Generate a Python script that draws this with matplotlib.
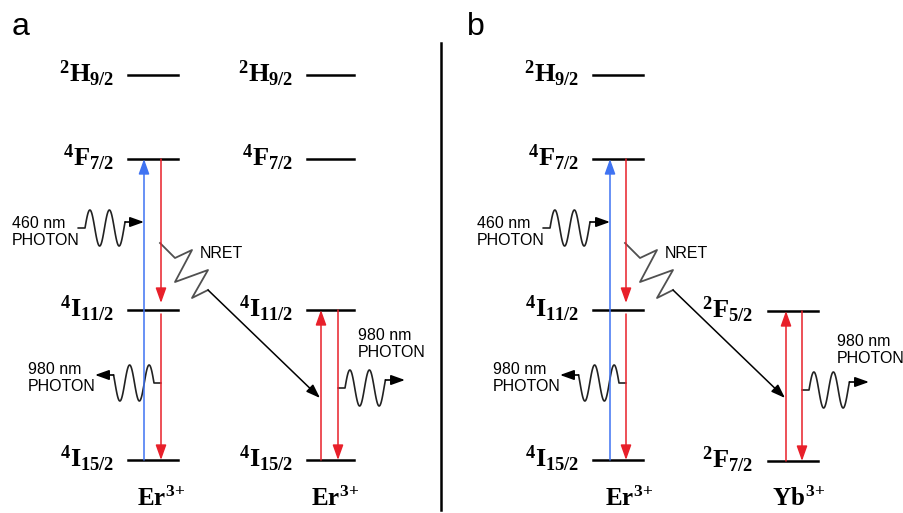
import numpy as np
import matplotlib
matplotlib.use('Agg')
import matplotlib.pyplot as plt

# ---- level schemes (diagram height, measured from the top) ----
er_terms = [r'^{2}H_{9/2}', r'^{4}F_{7/2}', r'^{4}I_{11/2}', r'^{4}I_{15/2}']
er_levels = [75, 159, 310, 460]
yb_terms = [r'^{2}F_{5/2}', r'^{2}F_{7/2}']
yb_levels = [311, 461]
ions = {'a': ['Er^{3{+}}', 'Er^{3{+}}'], 'b': ['Er^{3{+}}', 'Yb^{3{+}}']}
pump_label = '460 nm\nPHOTON'
emit_label = '980 nm\nPHOTON'
transfer_label = 'NRET'

BLUE = '#3f73f2'
RED = '#e8202a'
GREY = '#505050'

plt.rcParams['mathtext.fontset'] = 'custom'
plt.rcParams['mathtext.rm'] = 'Liberation Serif:bold'
plt.rcParams['mathtext.it'] = 'Liberation Serif:bold'
plt.rcParams['mathtext.bf'] = 'Liberation Serif:bold'

fig = plt.figure(figsize=(9.04, 5.13), dpi=100)
ax = fig.add_axes([0, 0, 1, 1])
ax.set_xlim(0, 904)
ax.set_ylim(513, 0)
ax.axis('off')


def arrow(x0, y0, x1, y1, color, ms=13, lw=1.1):
    ax.annotate('', xy=(x1, y1), xytext=(x0, y0),
                arrowprops=dict(arrowstyle='-|>,head_length=0.7,head_width=0.25',
                                color=color, lw=lw, shrinkA=0, shrinkB=0,
                                mutation_scale=ms))


def photon(x0, y0, xt, yt, d):
    # wavy photon: short lead, two wiggles, then arrow to (xt, yt)
    lead = 7
    per = 19.5
    amp = 18
    t = np.linspace(0, 4 * np.pi + np.arcsin((y0 - yt) / amp), 120)
    wx = x0 + d * lead + d * t / (2 * np.pi) * per
    wy = y0 - amp * np.sin(t)
    xs = np.concatenate([[x0], wx])
    ys = np.concatenate([[y0], wy])
    ax.plot(xs, ys, color='#222222', lw=1.2, solid_capstyle='round')
    arrow(xs[-1], yt, xt, yt, 'black', ms=12, lw=1.2)


def level(x0, x1, y, term, lx):
    ax.plot([x0, x1], [y, y], color='black', lw=1.8, zorder=3)
    ax.text(lx, y + 7, '$' + term + '$', ha='right', va='baseline', fontsize=19)


def panel(tag, ox, acc, acc_terms, acc_levels, acc_lx, up_x, down_x,
          t460, t980l, t980r, ph_r):
    # donor Er3+
    dx0, dx1 = 128 + ox, 178 + ox
    for term, y in zip(er_terms, er_levels):
        level(dx0, dx1, y, term, 114 + ox)
    # acceptor ion
    for term, y in zip(acc_terms, acc_levels):
        level(acc[0], acc[1], y, term, acc_lx)
    bx, rx = 144 + ox + (1 if tag == 'b' else 0), 161 + ox
    # absorption and emission in donor
    arrow(bx, er_levels[3], bx, er_levels[1], BLUE)
    arrow(rx, er_levels[1], rx, er_levels[2] - 7, RED)
    arrow(rx, er_levels[2] + 4, rx, er_levels[3], RED)
    # acceptor transitions
    arrow(up_x, acc_levels[-1], up_x, acc_levels[-2], RED)
    arrow(down_x, acc_levels[-2], down_x, acc_levels[-1], RED)
    # photons
    photon(78 + ox, 228, bx, 222, 1)
    photon(rx, 383, 95 + ox, 375, -1)
    photon(down_x, ph_r, down_x + 67, ph_r - 8, 1)
    for (tx, ty), lab in zip([t460, t980l, t980r], [pump_label, emit_label, emit_label]):
        ax.text(tx, ty, lab, ha='left', va='center',
                fontsize=11.5, family='Liberation Sans')
    # non-radiative energy transfer
    zx = np.array([160, 175, 192, 175, 208, 192, 208]) + ox
    zy = np.array([243, 258, 250, 282, 270, 298, 290])
    ax.plot(zx, zy, color=GREY, lw=1.3)
    arrow(zx[-1], zy[-1], up_x - 1, 398, 'black', ms=12, lw=1.1)
    ax.text(200 + ox, 254, transfer_label, ha='left', va='center',
            fontsize=11.5, family='Liberation Sans')
    # ion names
    ax.text(137 + ox + (3 if tag == 'b' else 0), 506, '$' + ions[tag][0] + '$',
            ha='left', va='baseline', fontsize=18)
    ax.text(acc[0] + 4, 506, '$' + ions[tag][1] + '$',
            ha='left', va='baseline', fontsize=18)
    ax.text(12 + ox - (10 if tag == 'b' else 0), 35, tag, ha='left', va='baseline',
            fontsize=23, family='Liberation Sans')


panel('a', 0, (307, 354), er_terms[2:], er_levels[2:], 293, 321, 338,
      (12, 232), (28, 378), (358, 344), 388)
# upper Er levels of the second ion in panel a
for term, y in zip(er_terms[:2], er_levels[:2]):
    level(307, 354, y, term, 293)

panel('b', 465, (768, 818), yb_terms, yb_levels, 753, 786, 802,
      (477, 232), (493, 378), (837, 350), 390)

# divider between the panels
ax.plot([441, 441], [43, 510], color='black', lw=1.8)

fig.savefig('out.png', dpi=100)
